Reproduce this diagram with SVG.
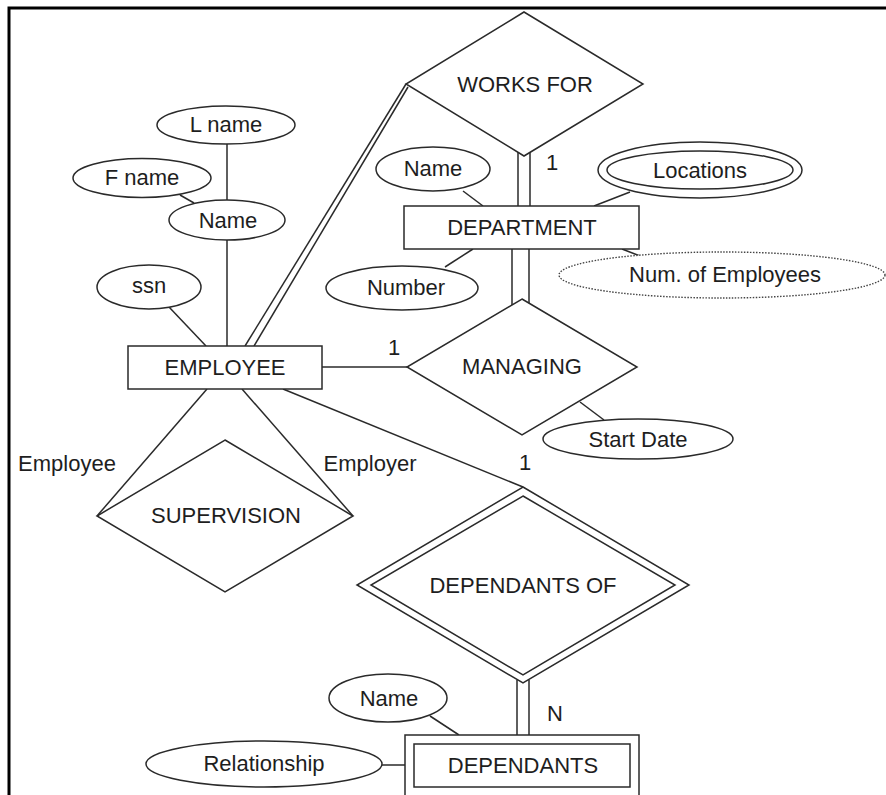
<svg xmlns="http://www.w3.org/2000/svg" width="886" height="795" viewBox="0 0 886 795">
  <style>
    .shape { fill: #fff; stroke: #2a2a2a; stroke-width: 1.5; }
    .line { fill: none; stroke: #2a2a2a; stroke-width: 1.5; }
    .dotted { fill: #fff; stroke: #444; stroke-width: 1.4; stroke-dasharray: 1.5 1.5; }
    text { font-family: "Liberation Sans", Arial, sans-serif; font-size: 22px; fill: #1e1e1e; text-anchor: middle; }
  </style>
  <rect width="886" height="795" fill="#fff"/>
  <!-- page frame -->
  <path d="M9,795 V8 H886" fill="none" stroke="#000" stroke-width="3"/>

  <!-- connectors -->
  <g id="connectors" class="line">
    <line x1="227" y1="144" x2="227" y2="200"/>
    <line x1="180" y1="195" x2="194" y2="203"/>
    <line x1="227" y1="240" x2="227" y2="346"/>
    <line x1="169" y1="307" x2="206" y2="346"/>
    <line x1="406" y1="84" x2="245" y2="346"/>
    <line x1="408" y1="87" x2="254" y2="346"/>
    <line x1="518" y1="152" x2="518" y2="206"/>
    <line x1="530" y1="152" x2="530" y2="206"/>
    <line x1="463" y1="191" x2="483" y2="206"/>
    <line x1="630" y1="192" x2="594" y2="206"/>
    <line x1="445" y1="267" x2="473" y2="249"/>
    <line x1="622" y1="249" x2="640" y2="256"/>
    <line x1="512" y1="249" x2="512" y2="305"/>
    <line x1="529" y1="249" x2="529" y2="303"/>
    <line x1="322" y1="367" x2="407" y2="367"/>
    <line x1="580" y1="402" x2="604" y2="420"/>
    <line x1="207" y1="389" x2="97" y2="516"/>
    <line x1="242" y1="389" x2="353" y2="516"/>
    <line x1="283" y1="389" x2="523" y2="487"/>
    <line x1="517" y1="680" x2="517" y2="735"/>
    <line x1="529" y1="680" x2="529" y2="735"/>
    <line x1="430" y1="716" x2="459" y2="735"/>
    <line x1="382" y1="765" x2="405" y2="765"/>
  </g>

  <!-- employee attributes -->
  <g id="attr-lname">
    <ellipse class="shape" cx="226" cy="125" rx="69" ry="19"/>
    <text x="226" y="132">L name</text>
  </g>
  <g id="attr-fname">
    <ellipse class="shape" cx="142" cy="178" rx="69" ry="19.5"/>
    <text x="142" y="185">F name</text>
  </g>
  <g id="attr-emp-name">
    <ellipse class="shape" cx="227" cy="220" rx="58" ry="20"/>
    <text x="228" y="228">Name</text>
  </g>
  <g id="attr-ssn">
    <ellipse class="shape" cx="149" cy="287" rx="52" ry="22"/>
    <text x="149" y="293">ssn</text>
  </g>

  <!-- entities -->
  <g id="employee">
    <rect class="shape" x="128" y="346" width="194" height="43"/>
    <text x="225" y="375">EMPLOYEE</text>
  </g>
  <g id="department">
    <rect class="shape" x="404" y="206" width="235" height="43"/>
    <text x="522" y="235">DEPARTMENT</text>
  </g>
  <g id="dependants">
    <rect class="shape" x="405" y="735" width="234" height="75"/>
    <rect class="shape" x="414" y="744" width="216" height="43"/>
    <text x="523" y="773">DEPENDANTS</text>
  </g>

  <!-- department attributes -->
  <g id="attr-dept-name">
    <ellipse class="shape" cx="433" cy="169" rx="57" ry="22"/>
    <text x="433" y="176">Name</text>
  </g>
  <g id="attr-locations">
    <ellipse class="shape" cx="700" cy="170" rx="102" ry="28"/>
    <ellipse class="shape" cx="700" cy="170" rx="93" ry="19"/>
    <text x="700" y="178">Locations</text>
  </g>
  <g id="attr-number">
    <ellipse class="shape" cx="402" cy="288" rx="76" ry="22"/>
    <text x="406" y="295">Number</text>
  </g>
  <g id="attr-num-employees">
    <ellipse class="dotted" cx="722" cy="275" rx="163" ry="23"/>
    <text x="725" y="282">Num. of Employees</text>
  </g>

  <!-- relationships -->
  <g id="works-for">
    <polygon class="shape" points="524,12 643,84 524,156 406,84"/>
    <text x="525" y="92">WORKS FOR</text>
  </g>
  <g id="managing">
    <polygon class="shape" points="522,299 637,367 522,435 407,367"/>
    <text x="522" y="374">MANAGING</text>
  </g>
  <g id="supervision">
    <polygon class="shape" points="225,440 353,516 225,592 97,516"/>
    <text x="226" y="523">SUPERVISION</text>
  </g>
  <g id="dependants-of">
    <polygon class="shape" points="523,487 689,585 523,683 357,585"/>
    <polygon class="shape" points="523,496 675,585 523,675 371,585"/>
    <text x="523" y="593">DEPENDANTS OF</text>
  </g>

  <!-- relationship attribute -->
  <g id="attr-start-date">
    <ellipse class="shape" cx="638" cy="439" rx="95" ry="20"/>
    <text x="638" y="447">Start Date</text>
  </g>

  <!-- dependant attributes -->
  <g id="attr-dep-name">
    <ellipse class="shape" cx="388" cy="698" rx="59" ry="24"/>
    <text x="389" y="706">Name</text>
  </g>
  <g id="attr-relationship">
    <ellipse class="shape" cx="264" cy="764" rx="118" ry="23"/>
    <text x="264" y="771">Relationship</text>
  </g>

  <!-- cardinalities and role names -->
  <g id="labels">
    <text x="552" y="170">1</text>
    <text x="394" y="355">1</text>
    <text x="525" y="470">1</text>
    <text x="555" y="721">N</text>
    <text x="67" y="471">Employee</text>
    <text x="370" y="471">Employer</text>
  </g>
</svg>
